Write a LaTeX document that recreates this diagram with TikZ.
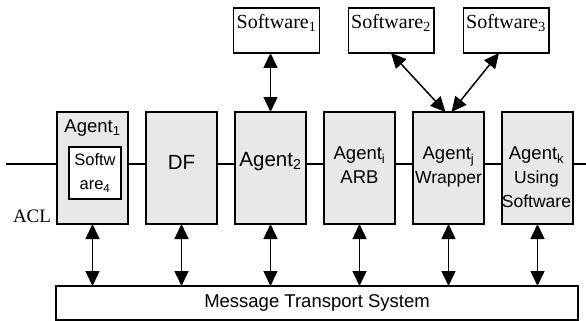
\documentclass[tikz,border=0pt]{standalone}
\usepackage{fontspec}
\setmainfont{Liberation Sans}
\newfontfamily\timesfont{Liberation Serif}
\usetikzlibrary{arrows.meta}
\definecolor{boxgray}{RGB}{232,232,232}
\newcommand{\smallline}{\fontsize{17.5}{24}\selectfont}
\begin{document}
\begin{tikzpicture}[x=1pt, y=-1pt, outer sep=0pt, line width=1.3pt]

\tikzstyle{agent}=[draw, rectangle, fill=boxgray, minimum height=112pt, minimum width=71pt, inner sep=0pt]
\tikzstyle{soft}=[draw, rectangle, fill=white, minimum height=45pt, minimum width=85pt, inner sep=3pt, text height=16pt, text depth=20pt, font=\timesfont\fontsize{20}{24}\selectfont]
\tikzstyle{lbl}=[inner sep=0pt, align=center, font=\fontsize{18.5}{24}\selectfont]
\tikzstyle{big}=[inner sep=0pt, font=\fontsize{20.5}{24}\selectfont]
\tikzstyle{link}=[line width=1.5pt, {Triangle[length=15pt,width=14pt]}-{Triangle[length=15pt,width=14pt]}]

\useasboundingbox (0,0) rectangle (586,321);

\coordinate (aclL) at (6,164); \coordinate (aclR) at (586,164);
\draw (aclL) -- (aclR);

\node[soft] (sw1) at (276.5,30.5) {Software\textsubscript{1}}; \node[soft] (sw2) at (391,30.5) {Software\textsubscript{2}}; \node[soft] (sw3) at (506,30.5) {Software\textsubscript{3}};

\node[agent] (a1) at (92.5,168) {}; \node[agent] (df) at (181.5,168) {}; \node[agent] (a2) at (270.5,168) {};
\node[agent] (ai) at (359.5,168) {}; \node[agent] (aj) at (448.5,168) {}; \node[agent] (ak) at (537.5,168) {};

\node[lbl, anchor=north] (a1txt) at (92.5,119.5) {Agent\textsubscript{1}};
\node[draw, rectangle, fill=white, minimum width=52pt, minimum height=52pt, inner sep=0pt, align=center, font=\fontsize{16.5}{24}\selectfont] (sw4) at (95,173) {Softw\\are\textsubscript{4}};
\node[big] (dftxt) at (181.5,162) {DF};
\node[big, anchor=base] (a2txt) at (270.5,166) {Agent\textsubscript{2}};
\node[lbl, anchor=north] (aitxt) at (359.5,147) {Agent\textsubscript{i}\\\fontsize{18.5}{25}\selectfont ARB};
\node[lbl, anchor=north] (ajtxt) at (448.5,147) {Agent\textsubscript{j}\\\smallline Wrapper};
\node[lbl, anchor=north] (aktxt) at (536.5,147) {Agent\textsubscript{k}\\\smallline Using\\\smallline Software};

\node[inner sep=0pt, font=\timesfont\fontsize{19}{19}\selectfont] (acl) at (32,216) {ACL};

\node[draw, rectangle, minimum width=522pt, minimum height=34pt, inner sep=0pt, font=\fontsize{18.5}{24}\selectfont] (mts) at (317,303) {Message Transport System};

\draw[link] (a2.north) -- (a2.north |- sw1.south);
\draw[link] ([xshift=-3pt]aj.north) -- (sw2.south);
\draw[link] ([xshift=3pt]aj.north) -- ([xshift=-7pt]sw3.south);

\draw[link] (a1.south) -- (a1.south |- mts.north); \draw[link] (df.south) -- (df.south |- mts.north); \draw[link] (a2.south) -- (a2.south |- mts.north);
\draw[link] (ai.south) -- (ai.south |- mts.north); \draw[link] (aj.south) -- (aj.south |- mts.north); \draw[link] (ak.south) -- (ak.south |- mts.north);

\end{tikzpicture}
\end{document}
